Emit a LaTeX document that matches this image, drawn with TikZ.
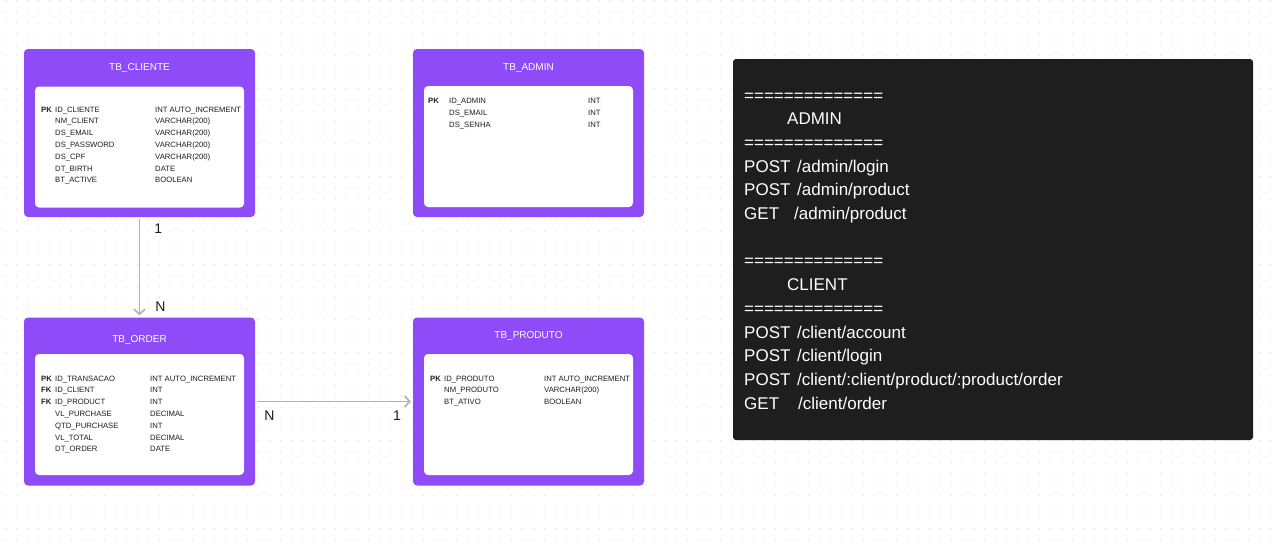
\documentclass[tikz,border=0pt]{standalone}
\usepackage{fontspec}
\setmainfont{Liberation Sans}
\usetikzlibrary{arrows.meta}

\definecolor{tablepurple}{HTML}{8F4BF7}
\definecolor{panelblack}{HTML}{1E1E1E}
\definecolor{relgray}{HTML}{B3B3B3}
\definecolor{gridgray}{HTML}{D9D9D9}

\begin{document}
\begin{tikzpicture}[
    x=1pt,
    y=-1pt,
    tablebox/.style={
        fill=tablepurple,
        minimum width=231pt,
        minimum height=168pt,
        rounded corners=4pt,
        inner sep=0pt
    },
    tablebody/.style={
        fill=white,
        minimum width=209pt,
        minimum height=121pt,
        rounded corners=4pt,
        inner sep=0pt
    },
    tabletitle/.style={
        anchor=base,
        text=white,
        inner sep=0pt,
        font=\fontsize{10}{12}\selectfont
    },
    % columns are anchored at the baseline of their last line
    column/.style={
        anchor=base west,
        align=left,
        inner sep=0pt,
        text=panelblack,
        font=\fontsize{7.7}{11.8}\selectfont
    },
    keycolumn/.style={
        column,
        font=\fontsize{7.7}{11.8}\selectfont\bfseries
    },
    panel/.style={
        fill=panelblack,
        minimum width=520pt,
        minimum height=381pt,
        rounded corners=3pt,
        inner sep=0pt
    },
    relation/.style={
        draw=relgray,
        line width=1.7pt,
        shorten <=2pt,
        shorten >=2pt,
        -{Straight Barb[length=5pt,width=11pt]}
    },
    cardinality/.style={
        inner sep=0pt,
        text=panelblack,
        font=\fontsize{14}{16}\selectfont
    }
]

    % ==========================================
    % CANVAS
    % ==========================================
    \useasboundingbox (0,0) rectangle (1280,549);
    \fill[white] (0,0) rectangle (1280,549);
    \foreach \gx in {5.5,16.5,...,1280}
        \draw[gridgray, line width=1.2pt, line cap=round, dash pattern=on 0pt off 11pt] (\gx,0.7) -- (\gx,549);

    % ==========================================
    % TABLES
    % ==========================================

    % TB_CLIENTE (top left)
    \node[tablebox] (Cliente) at (139.5,133) {};
    \node[tablebody] (ClienteBody) at (139.5,147) {};
    \node[tabletitle] (ClienteTitle) at (139.5,70.6) {TB\_CLIENTE};
    \node[keycolumn] (ClienteKeys) at (41,182.8) {PK\\ \\ \\ \\ \\ \\ };
    \node[column] (ClienteNames) at (55,182.8) {ID\_CLIENTE\\NM\_CLIENT\\DS\_EMAIL\\DS\_PASSWORD\\DS\_CPF\\DT\_BIRTH\\BT\_ACTIVE};
    \node[column] (ClienteTypes) at (155,182.8) {INT AUTO\_INCREMENT\\VARCHAR(200)\\VARCHAR(200)\\VARCHAR(200)\\VARCHAR(200)\\DATE\\BOOLEAN};

    % TB_ADMIN (top middle)
    \node[tablebox] (Admin) at (528.5,133) {};
    \node[tablebody] (AdminBody) at (528.5,146.5) {};
    \node[tabletitle] (AdminTitle) at (528.5,70.6) {TB\_ADMIN};
    \node[keycolumn, font=\fontsize{7.7}{12}\selectfont\bfseries] (AdminKeys) at (428,127) {PK\\ \\ };
    \node[column, font=\fontsize{7.7}{12}\selectfont] (AdminNames) at (449,127) {ID\_ADMIN\\DS\_EMAIL\\DS\_SENHA};
    \node[column, font=\fontsize{7.7}{12}\selectfont] (AdminTypes) at (588,127) {INT\\INT\\INT};

    % TB_ORDER (bottom left)
    \node[tablebox] (Order) at (139.5,401.5) {};
    \node[tablebody] (OrderBody) at (139.5,414.5) {};
    \node[tabletitle] (OrderTitle) at (139.5,342.6) {TB\_ORDER};
    \node[keycolumn] (OrderKeys) at (41,451.8) {PK\\FK\\FK\\ \\ \\ \\ };
    \node[column] (OrderNames) at (55,451.8) {ID\_TRANSACAO\\ID\_CLIENT\\ID\_PRODUCT\\VL\_PURCHASE\\QTD\_PURCHASE\\VL\_TOTAL\\DT\_ORDER};
    \node[column] (OrderTypes) at (150,451.8) {INT AUTO\_INCREMENT\\INT\\INT\\DECIMAL\\INT\\DECIMAL\\DATE};

    % TB_PRODUTO (bottom middle)
    \node[tablebox] (Produto) at (528.5,401.5) {};
    \node[tablebody] (ProdutoBody) at (528.5,414.5) {};
    \node[tabletitle] (ProdutoTitle) at (528.5,338.6) {TB\_PRODUTO};
    \node[keycolumn] (ProdutoKeys) at (430,404.6) {PK\\ \\ };
    \node[column] (ProdutoNames) at (444,404.6) {ID\_PRODUTO\\NM\_PRODUTO\\BT\_ATIVO};
    \node[column] (ProdutoTypes) at (544,404.6) {INT AUTO\_INCREMENT\\VARCHAR(200)\\BOOLEAN};

    % ==========================================
    % ROUTES PANEL
    % ==========================================
    \node[panel] (Routes) at (993,249.5) {};
    \node[anchor=base west, align=left, inner sep=0pt, text=white, font=\fontsize{17}{23.7}\selectfont] (RoutesText) at (744,409.1) {%
        ==============\\
        \hspace*{43pt}ADMIN\\
        ==============\\
        \makebox[53pt][l]{POST}/admin/login\\
        \makebox[53pt][l]{POST}/admin/product\\
        \makebox[50pt][l]{GET}/admin/product\\
        \mbox{}\\
        ==============\\
        \hspace*{43pt}CLIENT\\
        ==============\\
        \makebox[53pt][l]{POST}/client/account\\
        \makebox[53pt][l]{POST}/client/login\\
        \makebox[53pt][l]{POST}/client/:client/product/:product/order\\
        \makebox[54pt][l]{GET}/client/order};

    % ==========================================
    % RELATIONS
    % ==========================================

    % Cliente 1 -- N Order
    \draw[relation] (Cliente.south) -- (Order.north)
        node[pos=0.11, cardinality, right=14pt] {1}
        node[pos=0.89, cardinality, right=15pt] {N};

    % Order N -- 1 Produto
    \draw[relation] (Order.east) -- (Produto.west)
        node[pos=0.09, cardinality, below=9pt] {N}
        node[pos=0.9, cardinality, below=9pt] {1};

\end{tikzpicture}
\end{document}
